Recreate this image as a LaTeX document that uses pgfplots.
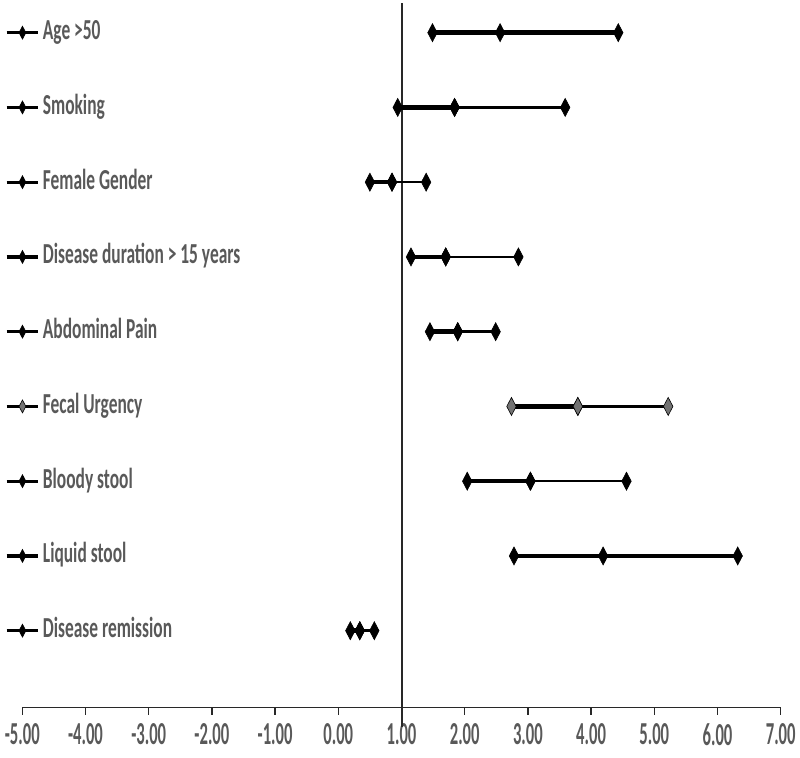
\documentclass[border=0pt]{standalone}
\usepackage{fontspec}
\setmainfont{Carlito}
\usepackage{graphicx}
\usepackage{pgfplots}
\pgfplotsset{compat=1.18}
\definecolor{txt}{RGB}{89,89,89}
\definecolor{axc}{RGB}{40,40,40}
\definecolor{mgray}{RGB}{115,115,115}
\newcommand{\lbl}[1]{\scalebox{0.6}[1]{#1}}
\pgfplotsset{
  thk/.style={black, line width=4.5pt, mark=diamond*, mark size=9pt,
    mark options={xscale=0.7, fill=black, draw=black, line width=0.6pt}},
  thn/.style={thk, line width=2.4pt, forget plot},
}
\begin{document}
\begin{tikzpicture}
\begin{axis}[
  name=ax,
  scale only axis,
  width=758.4pt, height=707.7pt,
  xmin=-5, xmax=7, ymin=-0.03, ymax=9.437,
  clip=false,
  axis y line=none,
  axis x line*=bottom,
  x axis line style={axc, line width=1.3pt},
  xtick={-5,-4,...,7},
  tick align=outside,
  major tick length=7pt,
  x tick style={axc, line width=1.3pt},
  xticklabel={\scalebox{0.52}[1]{\pgfmathprintnumber[fixed,fixed zerofill,precision=2,assume math mode=true]{\tick}}},
  xticklabel style={anchor=north, inner sep=0pt, yshift=-9pt, text=txt,
    font=\bfseries\fontsize{32pt}{36pt}\selectfont},
  legend cell align=left,
  legend image code/.code={
    \draw[#1, line width=3.2pt] (0pt,0pt) -- (31.7pt,0pt);
    \draw[#1, /tikz/every mark/.append style={scale=0.72}] plot coordinates {(15.85pt,0pt)};
  },
  legend style={at={(axis description cs:-0.0228,0.9708)}, anchor=north west,
    draw=none, fill=none, inner sep=0pt, outer sep=0pt, row sep=50.75pt,
    nodes={inner sep=0pt, text height=19pt, text depth=5pt, text=txt,
      font=\bfseries\fontsize{29pt}{32pt}\selectfont},
    /tikz/every odd column/.append style={column sep=3pt}},
]
% vertical reference line at 1
\addplot[axc, line width=2pt, mark=none, forget plot] coordinates {(1,-0.288) (1,9.397)};

\addplot[thk] coordinates {(1.49,9) (2.56,9) (4.43,9)};
\addlegendentry{\lbl{Age >50}}

\addplot[thk] coordinates {(0.94,8) (1.84,8)};
\addlegendentry{\lbl{Smoking}}
\addplot[thn] coordinates {(1.84,8) (3.59,8)};

\addplot[thk] coordinates {(0.50,7) (0.85,7)};
\addlegendentry{\lbl{Female Gender}}
\addplot[thn] coordinates {(0.85,7) (1.39,7)};

\addplot[thk] coordinates {(1.15,6) (1.70,6)};
\addlegendentry{\lbl{Disease duration > 15 years}}
\addplot[thn] coordinates {(1.70,6) (2.85,6)};

\addplot[thk] coordinates {(1.45,5) (1.89,5)};
\addlegendentry{\lbl{Abdominal Pain}}
\addplot[thn] coordinates {(1.89,5) (2.49,5)};

\addplot[thk, mark options={xscale=0.7, fill=mgray, draw=black, line width=0.6pt}] coordinates {(2.74,4) (3.79,4)};
\addlegendentry{\lbl{Fecal Urgency}}
\addplot[thn, mark options={xscale=0.7, fill=mgray, draw=black, line width=0.6pt}] coordinates {(3.79,4) (5.22,4)};

\addplot[thk] coordinates {(2.04,3) (3.04,3)};
\addlegendentry{\lbl{Bloody stool}}
\addplot[thn] coordinates {(3.04,3) (4.56,3)};

\addplot[thk] coordinates {(2.78,2) (4.19,2) (6.32,2)};
\addlegendentry{\lbl{Liquid stool}}

\addplot[thk] coordinates {(0.19,1) (0.34,1)};
\addlegendentry{\lbl{Disease remission}}
\addplot[thn] coordinates {(0.34,1) (0.57,1)};
\end{axis}
\pgfresetboundingbox
\path ([xshift=-22.3pt,yshift=-50.3pt]ax.south west) rectangle ([xshift=19.3pt]ax.north east);
\end{tikzpicture}
\end{document}
